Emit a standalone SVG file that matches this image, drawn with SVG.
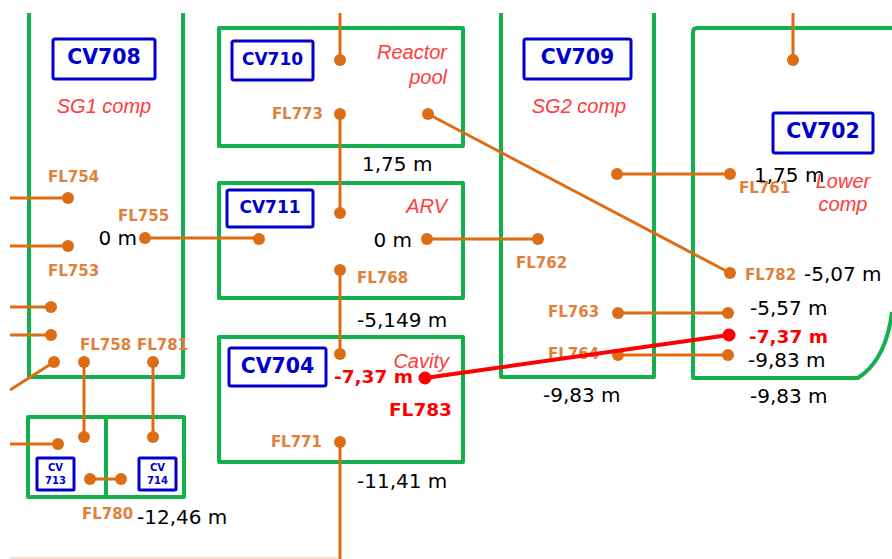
<svg xmlns="http://www.w3.org/2000/svg" width="892" height="559" viewBox="0 0 892 559">
<style>
.wall{fill:none;stroke:#14B04C;stroke-width:4;stroke-linejoin:round}
.lbl{fill:#fff;stroke:#0000CC;stroke-width:3}
.cv{font-family:"DejaVu Sans",Verdana,sans-serif;font-weight:bold;fill:#0000CC;text-anchor:middle}
.cvs{font-family:"DejaVu Sans",Verdana,sans-serif;font-weight:bold;fill:#0000CC;text-anchor:middle;font-size:10px}
.nm{font-family:"Liberation Sans",Arial,sans-serif;font-style:italic;fill:#FF3B3B;font-size:20px}
.fl{font-family:"DejaVu Sans",Verdana,sans-serif;font-weight:bold;fill:#E0803A;font-size:15px}
.ms{font-family:"DejaVu Sans",sans-serif;fill:#000;font-size:20px}
.rd{font-family:"DejaVu Sans",sans-serif;font-weight:bold;fill:#FF0000;font-size:18.5px}
.ln{stroke:#DD6D14;stroke-width:3;fill:none}
.dot{fill:#DD6D14}
.rl{stroke:#FF0000;stroke-width:4}
</style>
<rect width="892" height="559" fill="#fff"/>

<g id="cv708">
<path class="wall" d="M29,13 V377 H183 V13"/>
<rect class="lbl" x="53" y="39" width="102" height="40" rx="2"/>
<text class="cv" x="104" y="64" font-size="20.5">CV708</text>
<text class="nm" x="104" y="113" text-anchor="middle">SG1 comp</text>
</g>

<g id="cv713">
<rect class="wall" x="28" y="417" width="78" height="80"/>
<rect class="lbl" x="37" y="458" width="37" height="32" rx="1" stroke-width="2"/>
<text class="cvs" x="55.5" y="471">CV</text>
<text class="cvs" x="55.5" y="484">713</text>
</g>

<g id="cv714">
<rect class="wall" x="106" y="417" width="78" height="80"/>
<rect class="lbl" x="139" y="458" width="37" height="32" rx="1" stroke-width="2"/>
<text class="cvs" x="157.5" y="471">CV</text>
<text class="cvs" x="157.5" y="484">714</text>
</g>

<g id="cv710">
<rect class="wall" x="219" y="28" width="244" height="118"/>
<rect class="lbl" x="232" y="41" width="81" height="39" rx="2"/>
<text class="cv" x="272.5" y="65" font-size="17px">CV710</text>
<text class="nm" x="447" y="59" text-anchor="end">Reactor</text>
<text class="nm" x="447" y="84" text-anchor="end">pool</text>
</g>

<g id="cv711">
<rect class="wall" x="219" y="183" width="244" height="115"/>
<rect class="lbl" x="227" y="190" width="86" height="37" rx="2"/>
<text class="cv" x="270" y="213" font-size="17px">CV711</text>
<text class="nm" x="447" y="213" text-anchor="end">ARV</text>
</g>

<g id="cv704">
<rect class="wall" x="219" y="337" width="244" height="125"/>
<rect class="lbl" x="229" y="348" width="97" height="38" rx="2"/>
<text class="cv" x="277.5" y="373" font-size="20.5">CV704</text>
<text class="nm" x="449" y="368" text-anchor="end">Cavity</text>
</g>

<g id="cv709">
<path class="wall" d="M501,13 V377 H654 V13"/>
<rect class="lbl" x="524" y="39" width="107" height="40" rx="2"/>
<text class="cv" x="577.5" y="64" font-size="20.5">CV709</text>
<text class="nm" x="579" y="113" text-anchor="middle">SG2 comp</text>
</g>

<g id="cv702">
<path class="wall" d="M892,28 H697 Q693,28 693,32 V378 H858 Q886,360 892,312"/>
<rect class="lbl" x="773" y="113" width="100" height="40" rx="2"/>
<text class="cv" x="823" y="138" font-size="20.5">CV702</text>
<text class="nm" x="843" y="188" text-anchor="middle">Lower</text>
<text class="nm" x="843" y="211" text-anchor="middle">comp</text>
</g>

<g id="connectors">
<line x1="10" y1="558" x2="340" y2="558" stroke="#F7D3B8" stroke-width="1.5"/>
<path class="ln" d="M10,198 H68 M10,246 H68 M10,307 H51 M10,335 H51 M10,390 L54,362 M84,362 V437 M153,362 V437 M10,444 H58 M90,479 H121 M145,238 H259 M340,13 V60 M340,114 V213 M340,270 V354 M340,442 V559 M427,239 H538 M428,114 L730,273 M617,174 H730 M618,313 H728 M618,355 H728 M793,13 V60"/>
<g class="dot">
<circle cx="68" cy="198" r="6"/><circle cx="68" cy="246" r="6"/>
<circle cx="51" cy="307" r="6"/><circle cx="51" cy="335" r="6"/>
<circle cx="54" cy="362" r="6"/><circle cx="84" cy="362" r="6"/>
<circle cx="153" cy="362" r="6"/><circle cx="84" cy="437" r="6"/>
<circle cx="153" cy="437" r="6"/><circle cx="58" cy="444" r="6"/>
<circle cx="90" cy="479" r="6"/><circle cx="121" cy="479" r="6"/>
<circle cx="145" cy="238" r="6"/><circle cx="259" cy="239" r="6"/>
<circle cx="340" cy="60" r="6"/><circle cx="340" cy="114" r="6"/>
<circle cx="340" cy="213" r="6"/><circle cx="340" cy="270" r="6"/>
<circle cx="340" cy="354" r="6"/><circle cx="340" cy="442" r="6"/>
<circle cx="427" cy="239" r="6"/><circle cx="538" cy="239" r="6"/>
<circle cx="428" cy="114" r="6"/><circle cx="730" cy="273" r="6"/>
<circle cx="617" cy="174" r="6"/><circle cx="730" cy="174" r="6"/>
<circle cx="618" cy="313" r="6"/><circle cx="728" cy="313" r="6"/>
<circle cx="618" cy="355" r="6"/><circle cx="728" cy="355" r="6"/>
<circle cx="793" cy="60" r="6"/>
</g>
</g>

<g id="flow-labels">
<text class="fl" x="48" y="182">FL754</text>
<text class="fl" x="118" y="221">FL755</text>
<text class="fl" x="48" y="276">FL753</text>
<text class="fl" x="80" y="350" font-size="12px">FL758</text>
<text class="fl" x="137" y="350" font-size="12px">FL781</text>
<text class="fl" x="82" y="519">FL780</text>
<text class="fl" x="323" y="119" text-anchor="end">FL773</text>
<text class="fl" x="357" y="283">FL768</text>
<text class="fl" x="322" y="447" text-anchor="end">FL771</text>
<text class="fl" x="516" y="268">FL762</text>
<text class="fl" x="548" y="317">FL763</text>
<text class="fl" x="548" y="359">FL764</text>
<text class="fl" x="739" y="193">FL761</text>
<text class="fl" x="745" y="280">FL782</text>
</g>

<g id="fl783">
<line class="rl" x1="425" y1="378" x2="729" y2="335"/>
<circle cx="425" cy="378" r="6.5" fill="#FF0000"/>
<circle cx="729" cy="335" r="6.5" fill="#FF0000"/>
<text class="rd" x="334" y="383">-7,37 m</text>
<text class="rd" x="452" y="416" text-anchor="end" font-size="18px">FL783</text>
<text class="rd" x="749" y="343">-7,37 m</text>
</g>

<g id="elevations">
<text class="ms" x="137" y="245" text-anchor="end">0 m</text>
<text class="ms" x="362" y="171">1,75 m</text>
<text class="ms" x="412" y="247" text-anchor="end">0 m</text>
<text class="ms" x="357" y="327">-5,149 m</text>
<text class="ms" x="357" y="488">-11,41 m</text>
<text class="ms" x="137" y="524">-12,46 m</text>
<text class="ms" x="543" y="402">-9,83 m</text>
<text class="ms" x="754" y="182">1,75 m</text>
<text class="ms" x="804" y="281">-5,07 m</text>
<text class="ms" x="750" y="315">-5,57 m</text>
<text class="ms" x="748" y="367">-9,83 m</text>
<text class="ms" x="750" y="403">-9,83 m</text>
</g>
</svg>
